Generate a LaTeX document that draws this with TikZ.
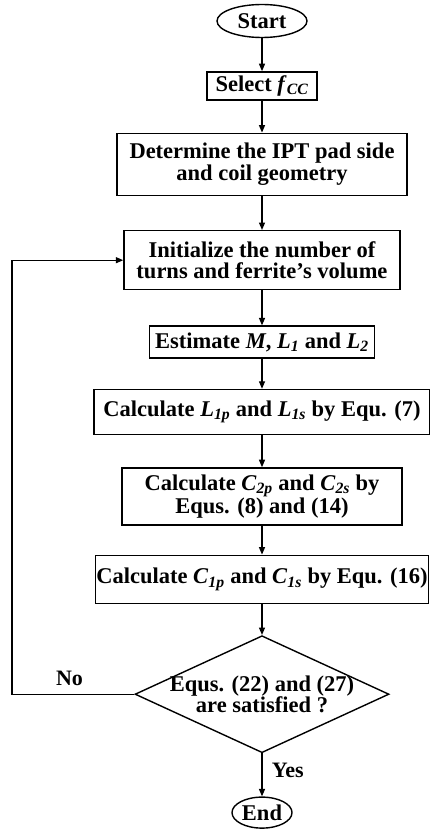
\documentclass[tikz,border=0pt]{standalone}
\usepackage{fontspec}
\setmainfont{Liberation Serif}
\usetikzlibrary{arrows.meta,positioning,shapes.geometric}
\newcommand{\qv}[2]{\textit{#1}\textsubscript{\textit{#2}}}

\begin{document}
\begin{tikzpicture}[
  x=1pt, y=1pt,
  every node/.style={font=\fontsize{22.5}{21.5}\selectfont\bfseries},
  box/.style={draw, line width=1.4pt, align=center, inner xsep=1pt, inner ysep=3pt},
  term/.style={draw, ellipse, line width=1.4pt, inner xsep=1pt, inner ysep=0pt},
  cond/.style={draw, diamond, line width=1.4pt, align=center, inner sep=-5pt, aspect=2.17, minimum width=254pt, minimum height=117pt},
  lab/.style={font=\fontsize{22}{21}\selectfont\bfseries},
  arrow/.style={-{Triangle[length=7.5pt,width=6pt]}, line width=1.3pt}
]
\useasboundingbox (0,0) rectangle (430,-837);

\node[term, minimum width=90pt, minimum height=33pt] (start) at (262,-21) {Start};
\node[box, below=33pt of start, minimum width=110pt, minimum height=28pt] (sel) {Select \qv{f}{CC}};
\node[box, below=32pt of sel, minimum width=290pt, minimum height=62pt] (det) {Determine the IPT pad side\\and coil geometry};
\node[box, below=34pt of det, minimum width=276pt, minimum height=59pt] (init) {Initialize the number of\\turns and ferrite's volume};
\node[box, below=35pt of init, minimum width=225pt, minimum height=32pt] (est) {Estimate \textit{M}, \qv{L}{1} and \qv{L}{2}};
\node[box, below=30pt of est, minimum width=336pt, minimum height=45pt] (lcalc) {Calculate \qv{L}{1p} and \qv{L}{1s} by Equ. (7)};
\node[box, below=32pt of lcalc, minimum width=280pt, minimum height=57pt] (ctwo) {Calculate \qv{C}{2p} and \qv{C}{2s} by\\Equs. (8) and (14)};
\node[box, below=29pt of ctwo, minimum width=332pt, minimum height=48pt] (cone) {Calculate \qv{C}{1p} and \qv{C}{1s} by Equ. (16)};
\node[cond, below=31pt of cone] (dec) {Equs. (22) and (27)\\are satisfied ?};
\node[term, below=43pt of dec, minimum width=60pt, minimum height=31pt] (fin) {End};

\foreach \a/\b in {start/sel, sel/det, det/init, init/est, est/lcalc, lcalc/ctwo, ctwo/cone, cone/dec}
  \draw[arrow] (\a) -- (\b);

% loop back when the check fails
\coordinate (back) at (12,0);
\draw[arrow] (dec.west) -- node[lab, above=5pt, pos=0.53] (no) {No} (dec.west -| back) |- (init.west);
\draw[arrow] (dec) -- node[lab, right=6pt, pos=0.4] (yes) {Yes} (fin);
\end{tikzpicture}
\end{document}
